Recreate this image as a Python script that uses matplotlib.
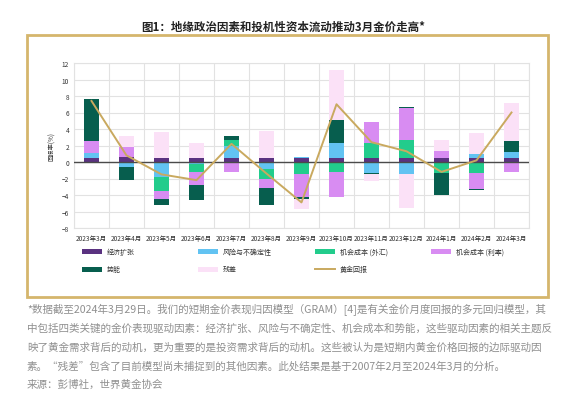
import numpy as np
import matplotlib.pyplot as plt
from matplotlib.patches import Rectangle
from matplotlib.lines import Line2D

plt.rcParams['font.family'] = ['Noto Sans CJK SC', 'DejaVu Sans']

# data
months = ['2023年3月', '2023年4月', '2023年5月', '2023年6月', '2023年7月', '2023年8月', '2023年9月',
          '2023年10月', '2023年11月', '2023年12月', '2024年1月', '2024年2月', '2024年3月']
econ = [0.5, 0.6, 0.5, 0.5, 0.45, 0.5, 0.5, 0.5, 0.45, 0.5, 0.5, 0.5, 0.5]
risk = [0.55, -0.6, -1.8, -0.3, 1.5, -0.9, 0.15, 1.75, -1.3, -1.5, 0.0, 0.5, 0.75]
fx = [0.0, 0.0, -1.7, -0.9, 0.7, -1.2, -1.5, -1.2, 1.85, 2.15, -1.3, -1.3, 0.0]
rates = [1.55, 1.25, -1.0, -1.6, -1.2, -1.0, -2.75, -3.0, 2.5, 3.85, 0.85, -1.95, -1.2]
momentum = [5.0, -1.6, -0.75, -1.8, 0.5, -2.15, -0.2, 2.85, -0.2, 0.2, -2.65, -0.15, 1.3]
residual = [0.0, 1.3, 3.1, 1.8, 0.0, 3.3, -1.2, 6.1, -0.8, -4.05, 1.3, 2.5, 4.55]
gold = [7.4, 0.8, -1.5, -2.2, 2.2, -1.4, -4.9, 7.0, 2.4, 1.3, -1.2, 0.2, 6.0]

names = ['经济扩张', '风险与不确定性', '机会成本 (外汇)', '机会成本 (利率)', '势能', '残差']
colors = ['#5a3280', '#62c3f2', '#22cc8c', '#d88cf2', '#075e4e', '#fbe1f7']
gold_name = '黄金回报'
gold_color = '#c9a95f'

title = '图1：地缘政治因素和投机性资本流动推动3月金价走高*'
notes = [
    '*数据截至2024年3月29日。我们的短期金价表现归因模型（GRAM）[4]是有关金价月度回报的多元回归模型，其',
    '中包括四类关键的金价表现驱动因素：经济扩张、风险与不确定性、机会成本和势能，这些驱动因素的相关主题反',
    '映了黄金需求背后的动机，更为重要的是投资需求背后的动机。这些被认为是短期内黄金价格回报的边际驱动因',
    '素。“残差”包含了目前模型尚未捕捉到的其他因素。此处结果是基于2007年2月至2024年3月的分析。',
    '来源：彭博社，世界黄金协会',
]

W, H = 567, 414
fig = plt.figure(figsize=(W / 100, H / 100), dpi=100)

def fx_(px):
    return px / W

def fy_(py):
    return 1 - py / H

fig.text(0.5, fy_(27), title, ha='center', va='center', fontsize=8.3,
         fontweight='bold', color='#222222')

fig.add_artist(Rectangle((fx_(26.5), fy_(297.5)), (548 - 26.5) / W, (297.5 - 35.5) / H,
                         transform=fig.transFigure, fill=False, edgecolor='#d5b66c', lw=2))

ax = fig.add_axes([fx_(74), fy_(229), (529 - 74) / W, (229 - 64) / H])

x = np.arange(len(months))
pos_bot = np.zeros(len(months))
neg_bot = np.zeros(len(months))
for vals, c in zip([econ, risk, fx, rates, momentum, residual], colors):
    v = np.array(vals)
    p = np.where(v > 0, v, 0)
    q = np.where(v < 0, v, 0)
    ax.bar(x, p, 0.42, bottom=pos_bot, color=c, zorder=3)
    ax.bar(x, q, 0.42, bottom=neg_bot, color=c, zorder=3)
    pos_bot += p
    neg_bot += q

ax.axhline(0, color='#4a4a4a', lw=1, zorder=4)
ax.plot(x, gold, color=gold_color, lw=1.4, zorder=5)

ax.set_xlim(-0.5, len(months) - 0.5)
ax.set_ylim(-8, 12)
ax.set_yticks(range(-8, 13, 2))
ax.set_xticks(x, months)
ax.set_xticks(np.arange(-0.5, len(months)), minor=True)
ax.yaxis.grid(True, color='#e2e2e2', lw=0.8, zorder=0)
ax.xaxis.grid(True, which='minor', color='#e2e2e2', lw=0.8, zorder=0)
ax.set_axisbelow(True)
ax.tick_params(which='both', length=0, labelsize=4.7, colors='#333333')
ax.tick_params(axis='x', pad=4)
ax.tick_params(axis='y', pad=3.5)
for s in ax.spines.values():
    s.set_color('#e2e2e2')
    s.set_linewidth(0.8)
ax.set_ylabel('回报率(%)', fontsize=4.5, color='#333333')
ax.yaxis.set_label_coords((56 - 74) / 455, 0.5)

# legend, 4 columns x 2 rows
col_x = [81.7, 198, 314.5, 431]
row_y = [252.7, 270]
items = [(n, c) for n, c in zip(names, colors)] + [(gold_name, gold_color)]
for i, (n, c) in enumerate(items):
    cx = col_x[i % 4]
    cy = row_y[i // 4]
    if n == gold_name:
        fig.add_artist(Line2D([fx_(cx), fx_(cx + 20)], [fy_(cy), fy_(cy)],
                              transform=fig.transFigure, color=c, lw=1.4))
    else:
        fig.add_artist(Rectangle((fx_(cx), fy_(cy + 2.5)), 20 / W, 5 / H,
                                 transform=fig.transFigure, color=c, lw=0))
    fig.text(fx_(cx + 25), fy_(cy), n, ha='left', va='center', fontsize=5, color='#333333')

for i, line in enumerate(notes):
    fig.text(fx_(27), fy_(310 + 18.8 * i), line, ha='left', va='center', fontsize=7.6,
             color='#8f8f8f')

fig.savefig('out.png', dpi=100)
